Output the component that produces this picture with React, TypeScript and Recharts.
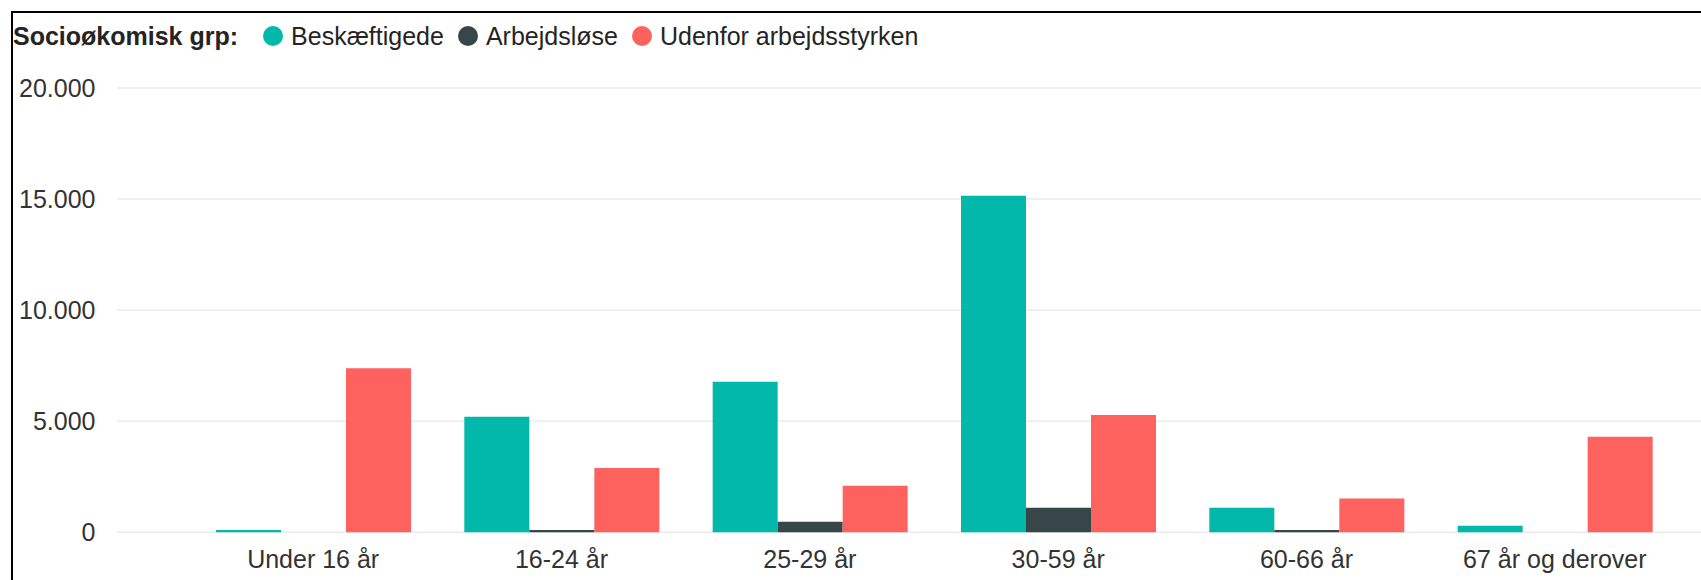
import React from 'react';
import { BarChart, Bar, XAxis, YAxis, CartesianGrid, Legend } from 'recharts';

const categories = ['Under 16 år', '16-24 år', '25-29 år', '30-59 år', '60-66 år', '67 år og derover'];
const beskaeftigede = [100, 5200, 6780, 15150, 1100, 300];
const arbejdsloese = [0, 100, 480, 1100, 100, 0];
const udenfor = [7380, 2900, 2100, 5280, 1520, 4300];
const yTicks = [0, 5000, 10000, 15000, 20000];
const seriesKeys = ['beskaeftigede', 'arbejdsloese', 'udenfor'];
const seriesNames = ['Beskæftigede', 'Arbejdsløse', 'Udenfor arbejdsstyrken'];
const seriesColors = ['#01B8AA', '#374649', '#FD625E'];
const legendTitle = 'Socioøkomisk grp:';

const data = categories.map((c, i) => ({
  category: c,
  beskaeftigede: beskaeftigede[i],
  arbejdsloese: arbejdsloese[i],
  udenfor: udenfor[i],
}));

const FONT = '"Liberation Sans", Arial, sans-serif';

const fmt = (v: number) => String(v).replace(/\B(?=(\d{3})+(?!\d))/g, '.');

const renderLegend = () => (
  <div
    style={{
      display: 'flex',
      alignItems: 'center',
      height: 26,
      fontFamily: FONT,
      fontSize: 25,
      color: '#252423',
      whiteSpace: 'nowrap',
    }}
  >
    <span style={{ fontWeight: 700, marginRight: 25 }}>{legendTitle}</span>
    {seriesNames.map((n, i) => (
      <span key={n} style={{ display: 'flex', alignItems: 'center', marginRight: 14 }}>
        <span
          style={{
            display: 'inline-block',
            width: 20,
            height: 20,
            borderRadius: '50%',
            background: seriesColors[i],
            marginRight: 8,
          }}
        />
        {n}
      </span>
    ))}
  </div>
);

export default function App() {
  return (
    <div
      style={{
        position: 'fixed',
        left: 0,
        top: 0,
        width: 1701,
        height: 580,
        overflow: 'hidden',
        background: '#fff',
      }}
    >
      <div
        style={{
          position: 'absolute',
          left: 11,
          top: 11,
          width: 1800,
          height: 800,
          border: '2px solid #000',
          boxSizing: 'border-box',
        }}
      />
      <div style={{ position: 'absolute', left: 0, top: 0 }}>
        <BarChart
          width={1701}
          height={580}
          data={data}
          margin={{ top: 88, right: 0, bottom: 0, left: 0 }}
          barCategoryGap={27}
          barGap={0}
        >
          <CartesianGrid vertical={false} stroke="#ebebeb" strokeWidth={1.5} />
          <XAxis
            dataKey="category"
            height={47.7}
            axisLine={false}
            tickLine={false}
            tickSize={0}
            tickMargin={17.7}
            interval={0}
            padding={{ left: 72, right: 22 }}
            tick={{ fill: '#333', fontSize: 25, fontFamily: FONT }}
          />
          <YAxis
            width={117}
            domain={[0, 20000]}
            ticks={yTicks}
            axisLine={false}
            tickLine={false}
            tickSize={0}
            tickMargin={21.5}
            tickFormatter={fmt}
            tick={{ fill: '#333', fontSize: 25, fontFamily: FONT }}
          />
          <Legend
            layout="vertical"
            align="center"
            verticalAlign="middle"
            content={renderLegend}
            wrapperStyle={{ left: 13, top: 23, width: 'auto', height: 'auto' }}
          />
          {seriesKeys.map((k, i) => (
            <Bar
              key={k}
              dataKey={k}
              name={seriesNames[i]}
              fill={seriesColors[i]}
              isAnimationActive={false}
            />
          ))}
        </BarChart>
      </div>
    </div>
  );
}
